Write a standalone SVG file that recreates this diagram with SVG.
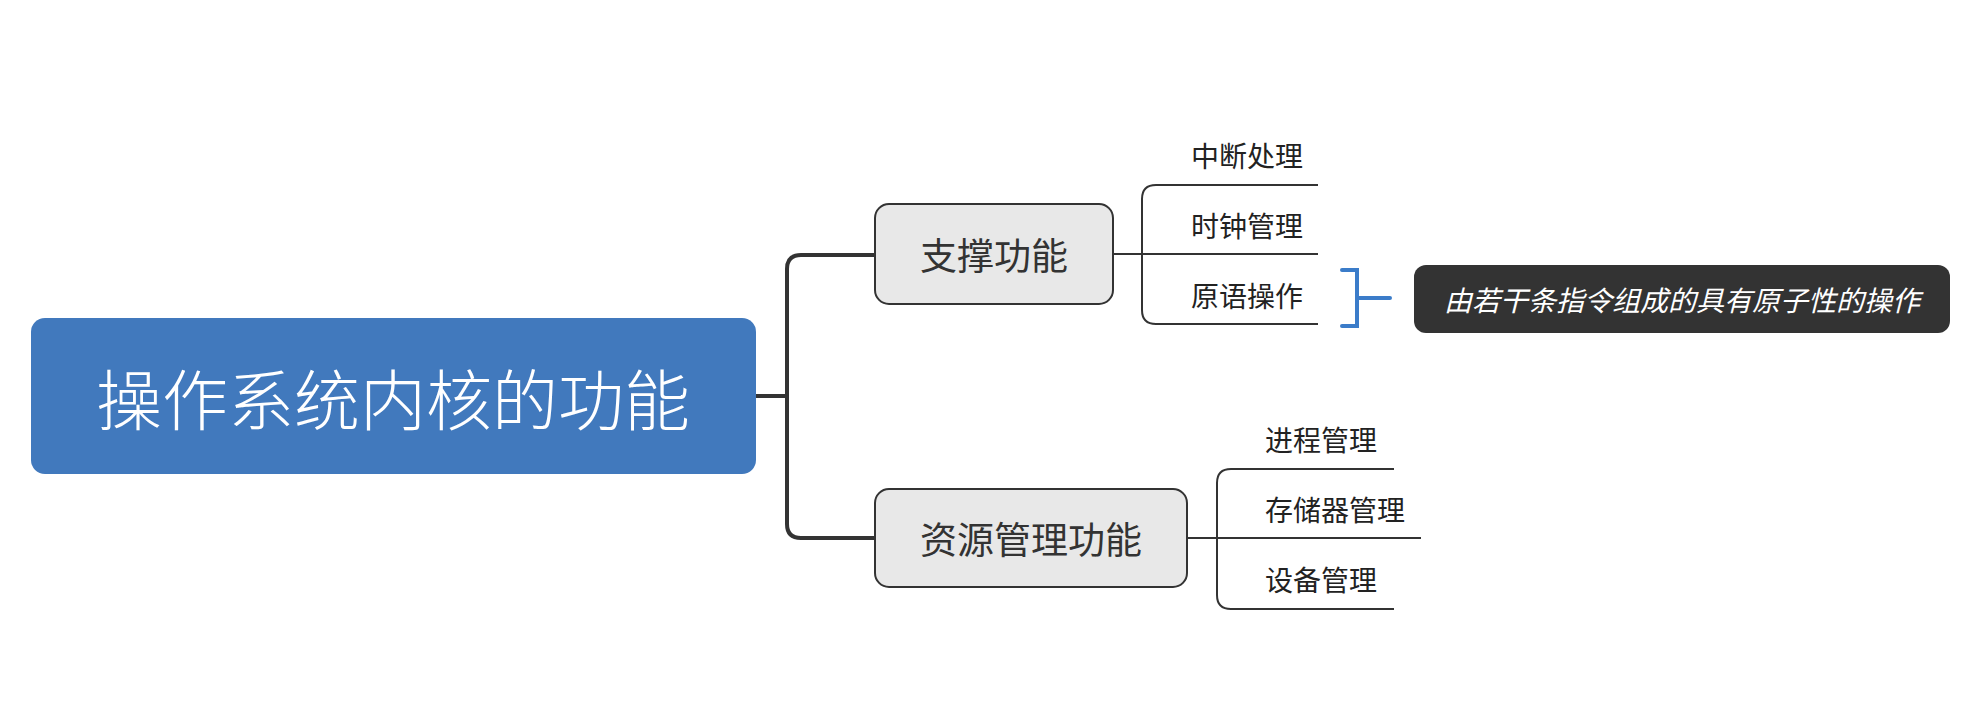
<svg xmlns="http://www.w3.org/2000/svg" width="1972" height="716" viewBox="0 0 1972 716">
<style>
text{font-family:"Noto Sans CJK SC","Noto Sans",sans-serif;}
.root-box{fill:#4179bd;}
.root-text{fill:#ffffff;font-size:66px;font-weight:300;text-anchor:middle;dominant-baseline:central;}
.main-box{fill:#e8e8e8;stroke:#333333;stroke-width:2;}
.main-text{fill:#333333;font-size:37px;text-anchor:middle;dominant-baseline:central;}
.sub-text{fill:#222222;font-size:28px;dominant-baseline:central;}
.trunk{fill:none;stroke:#333333;stroke-width:4;}
.branch{fill:none;stroke:#333333;stroke-width:2;}
.summary-line{fill:none;stroke:#3b7cc9;stroke-width:4;stroke-linecap:round;stroke-linejoin:miter;}
.summary-box{fill:#333333;}
.summary-text{fill:#ffffff;font-size:28px;font-style:italic;text-anchor:middle;dominant-baseline:central;}
</style>
<rect width="1972" height="716" fill="#ffffff"/>
<g id="connectors">
<path class="trunk" d="M756 396 H787 M875 255 H801 Q787 255 787 269 V524 Q787 538 801 538 H875"/>
<path class="branch" d="M1318 185 H1156 Q1142 185 1142 199 V310 Q1142 324 1156 324 H1318 M1113 254 H1318"/>
<path class="branch" d="M1394 469 H1231 Q1217 469 1217 483 V595 Q1217 609 1231 609 H1394 M1187 538 H1421"/>
<path class="summary-line" d="M1342 270 H1357 V326 H1342 M1357 298 H1390"/>
</g>
<g id="root">
<rect class="root-box" x="31" y="318" width="725" height="156" rx="14"/>
<text class="root-text" x="393" y="396">操作系统内核的功能</text>
</g>
<g id="support">
<rect class="main-box" x="875" y="204" width="238" height="100" rx="14"/>
<text class="main-text" x="994" y="254">支撑功能</text>
</g>
<g id="resource">
<rect class="main-box" x="875" y="489" width="312" height="98" rx="14"/>
<text class="main-text" x="1031" y="538">资源管理功能</text>
</g>
<g id="interrupt"><text class="sub-text" x="1191" y="155">中断处理</text></g>
<g id="clock"><text class="sub-text" x="1191" y="225">时钟管理</text></g>
<g id="primitive"><text class="sub-text" x="1191" y="295">原语操作</text></g>
<g id="process"><text class="sub-text" x="1265" y="439">进程管理</text></g>
<g id="memory"><text class="sub-text" x="1265" y="509">存储器管理</text></g>
<g id="device"><text class="sub-text" x="1265" y="579">设备管理</text></g>
<g id="summary">
<rect class="summary-box" x="1414" y="265" width="536" height="68" rx="12"/>
<text class="summary-text" x="1682" y="299">由若干条指令组成的具有原子性的操作</text>
</g>
</svg>
